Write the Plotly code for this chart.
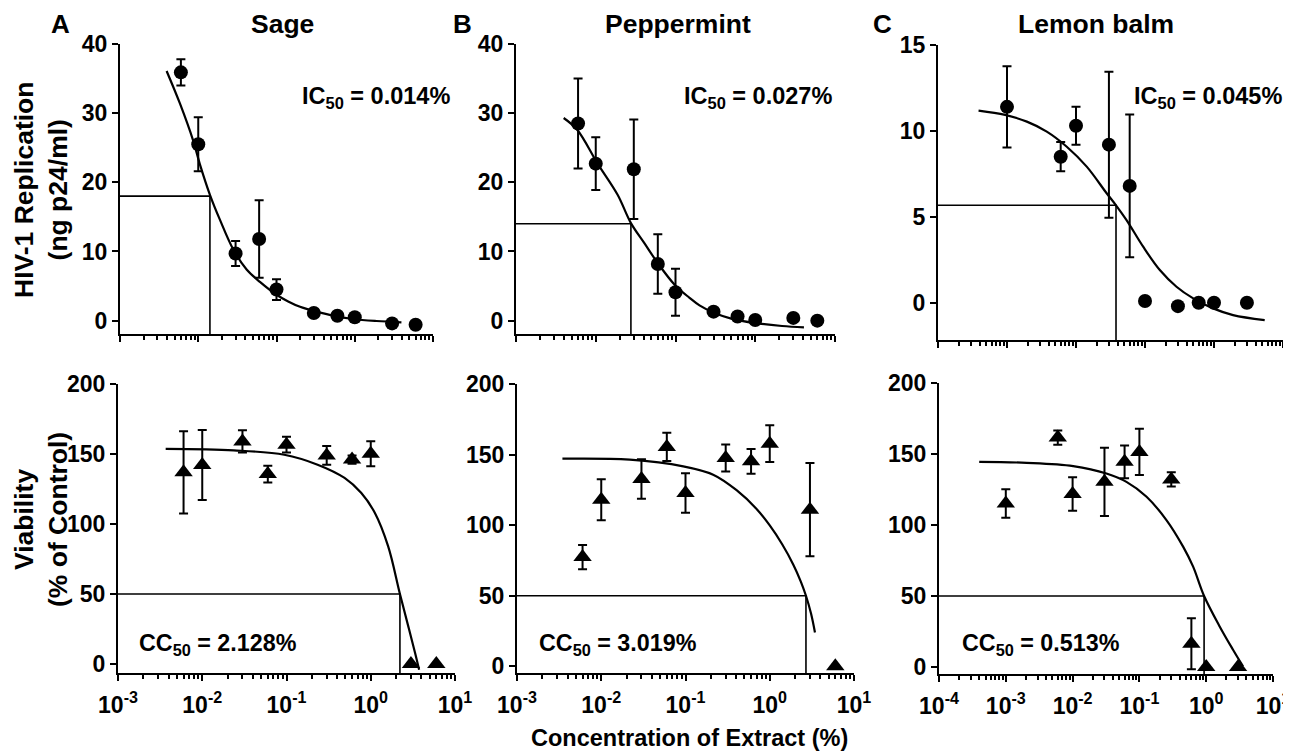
import plotly.graph_objects as go

W, H = 1291, 756
OFF = 8  # default page body margin of the html page
FONT = "Liberation Sans, Arial, sans-serif"

# ---------------- data ----------------
conc_sp = [0.006, 0.01, 0.03, 0.06, 0.1, 0.3, 0.6, 1, 3, 6]          # sage & peppermint
conc_lb = [0.001, 0.006, 0.01, 0.03, 0.06, 0.1, 0.3, 0.6, 1, 3]      # lemon balm

sage_hiv = [35.9, 25.5, 9.7, 11.8, 4.5, 1.1, 0.7, 0.5, -0.4, -0.6]
sage_hiv_err = [1.9, 3.9, 1.8, 5.6, 1.5, 0, 0, 0, 0, 0]
pep_hiv = [28.5, 22.7, 21.9, 8.2, 4.1, 1.3, 0.6, 0.1, 0.4, 0.0]
pep_hiv_err = [6.5, 3.8, 7.2, 4.3, 3.4, 0, 0, 0, 0, 0]
lem_hiv = [11.4, 8.5, 10.3, 9.2, 6.8, 0.1, -0.2, 0.0, 0.0, 0.0]
lem_hiv_err = [2.36, 0.85, 1.1, 4.25, 4.15, 0, 0, 0, 0, 0]

sage_via = [136.9, 142.1, 159.0, 135.7, 156.7, 149.0, 146.0, 150.2, 0, 0]
sage_via_err = [29.4, 25.0, 8.0, 6.0, 5.7, 6.7, 3.0, 9.0, 0, 0]
pep_via = [77.4, 118.0, 132.7, 155.4, 122.8, 147.6, 145.2, 157.7, 111.0, 0]
pep_via_err = [8.6, 14.5, 14.0, 10.0, 14.0, 9.5, 8.7, 13.0, 33.0, 0]
lem_via = [115.2, 161.6, 121.8, 130.4, 144.5, 151.5, 132.1, 16.4, 0, 0]
lem_via_err = [10.0, 5.0, 11.8, 24.0, 11.5, 16.2, 5.0, 18.0, 0, 0]

# fitted curves
sage_hiv_fit_x = [0.00394, 0.00583, 0.00863, 0.0105, 0.0141, 0.0189, 0.028, 0.0415, 0.0614,
                  0.1, 0.141, 0.2, 0.325, 0.53, 0.955, 1.9, 3.95]
sage_hiv_fit_y = [36.1, 31.4, 26.0, 22.6, 18.2, 14.6, 10.3, 7.4, 5.6,
                  3.75, 2.78, 2.0, 1.3, 0.72, 0.24, -0.05, -0.24]
pep_hiv_fit_x = [0.00396, 0.00585, 0.0105, 0.0188, 0.0276, 0.0407, 0.0601, 0.0975, 0.15,
                 0.2, 0.313, 0.5, 1.0, 2.17, 4.08]
pep_hiv_fit_y = [29.3, 27.6, 22.75, 18.2, 14.1, 11.2, 8.3, 5.2, 3.3,
                 2.2, 1.06, 0.3, -0.35, -0.77, -0.96]
lem_hiv_fit_x = [0.000387, 0.00094, 0.00194, 0.00377, 0.00735, 0.0143, 0.0278, 0.038, 0.054,
                 0.094, 0.164, 0.286, 0.5, 0.97, 1.89, 5.43]
lem_hiv_fit_y = [11.18, 10.93, 10.54, 9.96, 9.08, 7.92, 6.37, 5.67, 4.81,
                 3.26, 1.9, 0.93, 0.25, -0.33, -0.72, -1.01]

sage_via_fit_x = [0.00368, 0.0237, 0.094, 0.234, 0.489, 0.773, 1.12, 1.61, 2.22, 2.79, 3.36, 3.75]
sage_via_fit_y = [153.6, 152.6, 149.5, 142.4, 132.9, 122.1, 107.9, 84.0, 50.0, 26.9, 7.9, -4.0]
pep_via_fit_x = [0.00346, 0.0218, 0.094, 0.213, 0.404, 0.698, 1.0, 1.41, 1.905, 2.344, 2.69, 3.09, 3.44]
pep_via_fit_y = [147.1, 146.4, 141.7, 135.8, 124.8, 111.5, 99.8, 86.3, 72.0, 59.9, 50.0, 37.4, 24.0]
lem_via_fit_x = [0.0004, 0.00205, 0.0102, 0.0321, 0.064, 0.128, 0.254, 0.451, 0.637, 0.93, 1.59, 2.52, 3.56]
lem_via_fit_y = [144.5, 143.8, 141.5, 136.3, 130.4, 119.9, 103.5, 84.8, 70.7, 50.0, 28.6, 12.2, 0.5]

ic50_x = [0.0141, 0.0276, 0.038]
ic50_y = [18.0, 14.0, 5.67]
cc50_x = [2.22, 2.69, 0.93]
cc50_y = [50, 50, 50]

titles = ["Sage", "Peppermint", "Lemon balm"]
letters = ["A", "B", "C"]
ic50_text = ["0.014%", "0.027%", "0.045%"]
cc50_text = ["2.128%", "3.019%", "0.513%"]

# ---------------- layout helpers (px of the window -> paper fraction) ----------------
FW, FH = W - OFF, H - OFF
def fx(p): return (p - OFF) / FW
def fy(p): return 1 - (p - OFF) / FH

panels = [
    # box = (left, right, top, bottom) in px
    dict(box=(120, 433, 44, 334), xr=(-3, 1), yr=(-1.93, 40), yt=[0, 10, 20, 30, 40], lab=False,
         x=conc_sp, y=sage_hiv, e=sage_hiv_err, fx=sage_hiv_fit_x, fy=sage_hiv_fit_y,
         cx=ic50_x[0], cy=ic50_y[0], sym="circle"),
    dict(box=(516, 835, 44, 334), xr=(-3, 1), yr=(-1.93, 40), yt=[0, 10, 20, 30, 40], lab=False,
         x=conc_sp, y=pep_hiv, e=pep_hiv_err, fx=pep_hiv_fit_x, fy=pep_hiv_fit_y,
         cx=ic50_x[1], cy=ic50_y[1], sym="circle"),
    dict(box=(938, 1283, 45, 340), xr=(-4, 1), yr=(-2.17, 15), yt=[0, 5, 10, 15], lab=False,
         x=conc_lb, y=lem_hiv, e=lem_hiv_err, fx=lem_hiv_fit_x, fy=lem_hiv_fit_y,
         cx=ic50_x[2], cy=ic50_y[2], sym="circle"),
    dict(box=(118, 455, 384, 673), xr=(-3, 1), yr=(-6.4, 200), yt=[0, 50, 100, 150, 200], lab=True,
         x=conc_sp, y=sage_via, e=sage_via_err, fx=sage_via_fit_x, fy=sage_via_fit_y,
         cx=cc50_x[0], cy=cc50_y[0], sym="triangle-up"),
    dict(box=(517, 854, 384, 673), xr=(-3, 1), yr=(-4.7, 200), yt=[0, 50, 100, 150, 200], lab=True,
         x=conc_sp, y=pep_via, e=pep_via_err, fx=pep_via_fit_x, fy=pep_via_fit_y,
         cx=cc50_x[1], cy=cc50_y[1], sym="triangle-up"),
    dict(box=(939, 1273, 383, 674), xr=(-4, 1), yr=(-4.9, 200), yt=[0, 50, 100, 150, 200], lab=True,
         x=conc_lb, y=lem_via, e=lem_via_err, fx=lem_via_fit_x, fy=lem_via_fit_y,
         cx=cc50_x[2], cy=cc50_y[2], sym="triangle-up"),
]

fig = go.Figure()
layout = {}
tickfont = dict(family=FONT, size=23, color="black", weight="bold")

for i, p in enumerate(panels):
    n = "" if i == 0 else str(i + 1)
    xa, ya = "x" + n, "y" + n
    l, r, t, b = p["box"]
    lo, hi = p["xr"]
    decs = [10.0 ** k for k in range(lo, hi + 1)]
    minors = [m * 10.0 ** k for k in range(lo, hi) for m in range(2, 10)]
    layout["xaxis" + n] = dict(
        type="log", range=[lo, hi], domain=[fx(l), fx(r)], anchor=ya,
        showline=True, linewidth=2, linecolor="black", mirror=False,
        ticks="outside", ticklen=6, tickwidth=2, tickcolor="black",
        tickmode="array", tickvals=decs,
        ticktext=["10<sup>%d</sup>" % k for k in range(lo, hi + 1)],
        showticklabels=p["lab"], tickfont=tickfont, ticklabelstandoff=4,
        ticklabeloverflow="allow",
        showgrid=False, zeroline=False, fixedrange=True, automargin=False,
        minor=dict(ticks="outside", ticklen=3.5, tickwidth=1.5, tickcolor="black",
                   tickmode="array", tickvals=minors, showgrid=False),
    )
    layout["yaxis" + n] = dict(
        range=list(p["yr"]), domain=[fy(b), fy(t)], anchor=xa,
        showline=True, linewidth=2, linecolor="black",
        ticks="outside", ticklen=6, tickwidth=2, tickcolor="black",
        tickmode="array", tickvals=p["yt"], tickfont=tickfont,
        ticklabeloverflow="allow",
        showgrid=False, zeroline=False, fixedrange=True, automargin=False,
    )
    xmin = 10.0 ** lo
    ymin = p["yr"][0]
    # IC50 / CC50 guide lines
    fig.add_trace(go.Scatter(
        x=[xmin, p["cx"], p["cx"]], y=[p["cy"], p["cy"], ymin], mode="lines",
        line=dict(color="black", width=1.6), xaxis=xa, yaxis=ya, showlegend=False,
        hoverinfo="skip"))
    # fitted curve
    fig.add_trace(go.Scatter(
        x=p["fx"], y=p["fy"], mode="lines", line=dict(color="black", width=2.2, shape="spline"),
        xaxis=xa, yaxis=ya, showlegend=False, hoverinfo="skip"))
    # data points
    fig.add_trace(go.Scatter(
        x=p["x"], y=p["y"], mode="markers",
        marker=dict(symbol=p["sym"], size=14 if p["sym"] == "circle" else 16, color="black"),
        error_y=dict(type="data", array=p["e"], visible=True, color="black", thickness=2, width=4.5),
        xaxis=xa, yaxis=ya, showlegend=False, cliponaxis=False))

ann = []
def text(x, y, s, size, xanchor="center", yanchor="middle", angle=0):
    ann.append(dict(x=fx(x), y=fy(y), xref="paper", yref="paper", text=s, showarrow=False,
                    xanchor=xanchor, yanchor=yanchor, textangle=angle,
                    font=dict(family=FONT, size=size, color="black", weight="bold")))

letter_x = [61, 462, 882]
title_x = [282, 678, 1096]
ic_left = [300, 682, 1132]
cc_left = [137, 537, 960]
for k in range(3):
    text(letter_x[k], 24, letters[k], 26)
    text(title_x[k], 24, titles[k], 26.5)
    text(ic_left[k], 97, "IC<sub>50</sub> = " + ic50_text[k], 23.5, xanchor="left")
    text(cc_left[k], 644, "CC<sub>50</sub> = " + cc50_text[k], 23.3, xanchor="left")

text(41, 190, "HIV-1 Replication<br>(ng p24/ml)", 26.5, angle=-90)
text(41, 520, "Viability<br>(% of Control)", 26.5, angle=-90)
text(689, 738, "Concentration of Extract (%)", 23.5)

fig.update_layout(
    width=FW, height=FH, margin=dict(l=0, r=0, t=0, b=0, autoexpand=False),
    paper_bgcolor="white", plot_bgcolor="white",
    annotations=ann, showlegend=False, **layout)

fig.write_html("out.html")
